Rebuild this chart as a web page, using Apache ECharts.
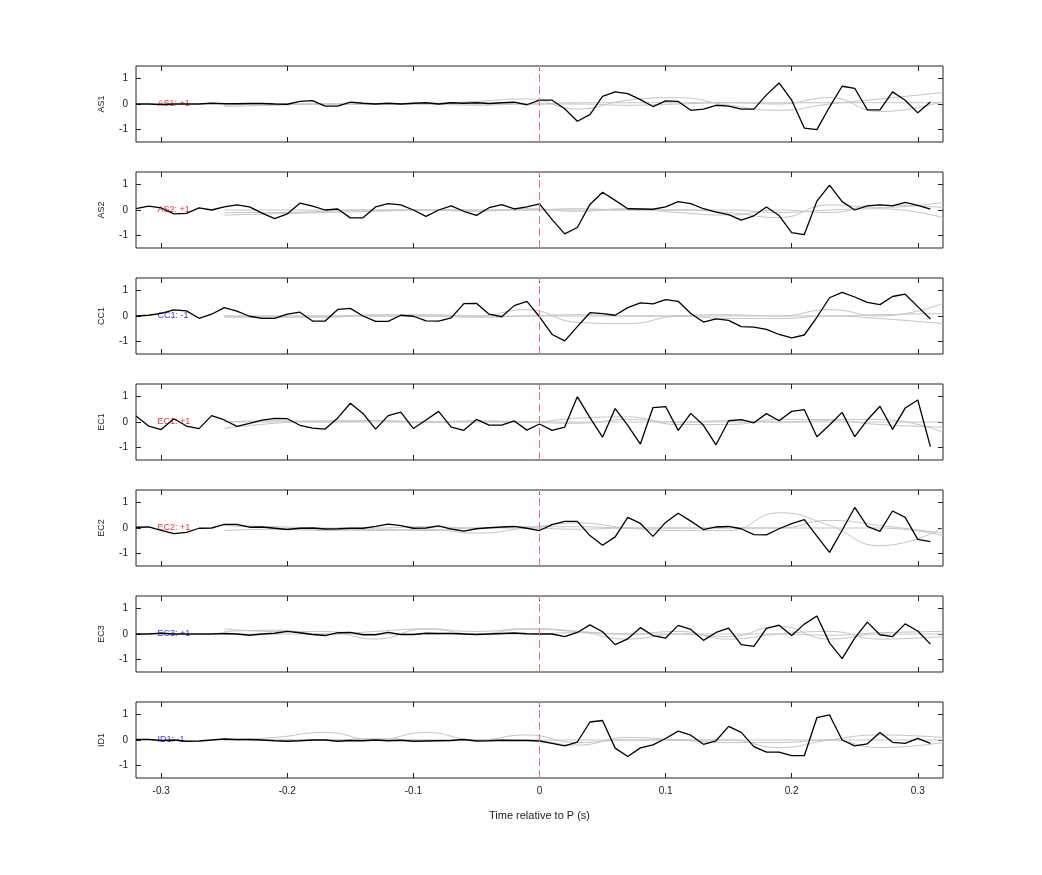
<!DOCTYPE html>
<html>
<head>
<meta charset="utf-8" />
<title>Waveforms</title>
<script src="https://cdn.jsdelivr.net/npm/echarts@6/dist/echarts.min.js"></script>
<style>html,body{margin:0;background:#fff}#chart{width:1042px;height:875px}</style>
</head>
<body>
<div id="chart"></div>
<script>
// station names and polarity labels
const stations = ['AS1', 'AS2', 'CC1', 'EC1', 'EC2', 'EC3', 'ID1'];
const polarity = ['AS1: +1', 'AS2: +1', 'CC1: -1', 'EC1: +1', 'EC2: +1', 'EC3: +1', 'ID1: -1'];
const polarityColor = ['#e00000', '#e00000', '#0000e0', '#e00000', '#e00000', '#0000e0', '#0000e0'];
const xTicks = [-0.3, -0.2, -0.1, 0, 0.1, 0.2, 0.3];

// black trace: one sample every 0.01 s from -0.32 to 0.31
const t0 = -0.32, dt = 0.01;
const AS1 = [0,0,-0.02,0,0,0,0.03,0.01,0.01,0.02,0.02,0,-0.01,0.1,0.13,-0.08,-0.08,0.07,0.03,0,0.03,0,0.03,0.05,0,0.05,0.03,0.05,0.02,0.05,0.07,-0.03,
  0.15,0.15,-0.19,-0.68,-0.42,0.3,0.48,0.41,0.17,-0.1,0.12,0.1,-0.25,-0.2,-0.05,-0.08,-0.2,-0.2,0.36,0.83,0.15,-0.95,-1.01,-0.12,0.7,0.62,-0.23,-0.23,0.48,0.15,-0.35,0.08];
const AS2 = [0.05,0.15,0.08,-0.15,-0.13,0.08,0,0.12,0.2,0.12,-0.12,-0.34,-0.15,0.27,0.15,0,0.04,-0.31,-0.31,0.12,0.25,0.2,0,-0.25,0,0.16,-0.05,-0.21,0.09,0.21,0.04,0.12,
  0.24,-0.38,-0.94,-0.69,0.22,0.7,0.38,0.05,0.04,0.03,0.12,0.33,0.25,0.05,-0.08,-0.18,-0.4,-0.23,0.12,-0.22,-0.89,-0.97,0.35,0.98,0.33,0,0.16,0.2,0.16,0.3,0.18,0.03];
const CC1 = [0,0.03,0.1,0.24,0.2,-0.09,0.07,0.33,0.19,-0.01,-0.09,-0.09,0.07,0.15,-0.2,-0.2,0.26,0.3,0,-0.21,-0.21,0.03,-0.01,-0.19,-0.2,-0.07,0.49,0.5,0.07,-0.03,0.41,0.58,
  -0.03,-0.73,-0.98,-0.42,0.13,0.09,0.03,0.33,0.52,0.48,0.65,0.58,0.1,-0.24,-0.11,-0.17,-0.42,-0.44,-0.53,-0.73,-0.86,-0.75,-0.05,0.72,0.93,0.75,0.54,0.45,0.77,0.86,0.37,-0.12];
const EC1 = [0.24,-0.16,-0.3,0.13,-0.16,-0.26,0.25,0.08,-0.17,-0.05,0.07,0.14,0.13,-0.13,-0.24,-0.28,0.16,0.74,0.34,-0.28,0.25,0.39,-0.26,0.08,0.42,-0.2,-0.33,0.1,-0.12,-0.12,0.04,-0.32,
  -0.08,-0.33,-0.2,1.0,0.17,-0.6,0.53,-0.13,-0.87,0.57,0.61,-0.33,0.34,-0.13,-0.9,0.05,0.09,-0.03,0.33,0.05,0.42,0.49,-0.58,-0.12,0.38,-0.58,0.08,0.62,-0.29,0.55,0.87,-0.97];
const EC2 = [0.03,0.04,-0.09,-0.22,-0.17,-0.01,0,0.14,0.14,0.03,0.04,-0.01,-0.06,-0.01,0,-0.04,-0.03,-0.01,-0.01,0.06,0.15,0.09,-0.01,0,0.08,-0.04,-0.12,-0.03,0.01,0.04,0.06,-0.01,
  -0.1,0.13,0.26,0.26,-0.3,-0.68,-0.35,0.42,0.18,-0.33,0.22,0.58,0.27,-0.06,0.04,0.06,-0.03,-0.26,-0.27,-0.03,0.17,0.33,-0.32,-0.96,-0.09,0.81,0.06,-0.13,0.67,0.42,-0.45,-0.54];
const EC3 = [0,0,0.03,0,0,0,0,0.02,0,-0.05,0,0.03,0.1,0.05,-0.02,-0.06,0.05,0.06,-0.03,-0.03,0.06,-0.02,-0.02,0.03,0.02,0.02,0,-0.02,0,0.02,0.04,0.01,
  0,0,-0.1,0.06,0.36,0.09,-0.42,-0.19,0.25,-0.06,-0.16,0.34,0.18,-0.25,0.06,0.23,-0.42,-0.49,0.22,0.35,-0.06,0.39,0.71,-0.35,-0.97,-0.16,0.47,-0.03,-0.1,0.4,0.12,-0.4];
const ID1 = [0.02,0.02,-0.02,0,-0.05,-0.04,0,0.04,0.02,0.02,0,-0.03,-0.05,-0.03,0,0,-0.05,-0.02,-0.03,0,-0.03,-0.01,-0.05,-0.04,-0.03,-0.02,0.02,-0.04,-0.03,-0.01,-0.02,-0.02,
  -0.04,-0.13,-0.23,-0.08,0.71,0.77,-0.32,-0.65,-0.31,-0.19,0.06,0.35,0.19,-0.17,-0.03,0.54,0.3,-0.26,-0.48,-0.48,-0.62,-0.62,0.88,0.99,0,-0.23,-0.15,0.3,-0.09,-0.13,0.06,-0.13];
const traces = [AS1, AS2, CC1, EC1, EC2, EC3, ID1];

// grey synthetic traces (coarse samples, drawn smoothed)
const gx = [-0.25,-0.21,-0.17,-0.13,-0.09,-0.05,-0.01,0.03,0.07,0.11,0.15,0.19,0.23,0.27,0.32];
const greyAS1 = [
  [0,0,0,0,0,0,0,0.05,0.05,0.05,0.05,0.05,0.05,0.05,0.05],
  [-0.05,0,0,0,0.02,0.1,0.2,-0.2,0.15,0.25,-0.05,-0.25,0,0.2,0.45],
  [-0.1,-0.05,0,0,0,-0.05,0,0,-0.05,0,0.05,0,0.25,-0.3,0.1]];
const greyAS2 = [
  [-0.1,-0.1,-0.05,0,0,0,0,0.05,0,0,-0.1,-0.3,0.2,0.1,0.3],
  [-0.2,-0.15,-0.1,-0.05,0,-0.05,0.05,-0.05,0.05,-0.1,-0.2,0,-0.1,0.2,0.1],
  [0,0,0,0,0,0,0,0,0,0,0,-0.1,0,0.05,-0.3]];
const greyCC1 = [
  [0,0,0,0,0,0,0,0,0,0,0,0,0,0.05,0.1],
  [-0.05,-0.05,-0.05,0.05,0.05,0,0.25,-0.25,-0.3,0,0.05,0,0.25,0,0.5],
  [0,0,0,0,0,-0.05,0,0.05,0,0,-0.1,-0.1,0,-0.1,-0.3]];
const greyEC1 = [
  [0,0,0,0,0,0,0,0,0,0,0,0,0,0,0],
  [-0.25,-0.05,0.05,0.05,0,0,0,0.15,0.2,-0.1,-0.1,0.1,0.1,0.1,-0.4],
  [0,0.05,0,0.05,0,0.05,0,-0.05,0.1,0,0.05,0,0.05,-0.1,-0.2]];
const greyEC2 = [
  [0.1,0,-0.05,-0.1,-0.05,-0.2,0,0.2,0,-0.1,-0.1,0.6,0.1,-0.7,0],
  [0.1,0.05,0,0,0.05,0,0.05,0.05,0,0,0,0,0.3,0.1,-0.2],
  [-0.1,-0.05,-0.1,-0.05,-0.1,0,0,-0.05,0,0,0,0,0,0,-0.3]];
const greyEC3 = [
  [0.2,0.1,0.1,-0.2,0.2,0,0.2,0.1,-0.2,0,-0.1,0.3,-0.2,0,0],
  [0.1,0.15,0,0.1,0.2,0.1,0.2,0.1,0,0.1,-0.2,0,0.1,-0.2,-0.1],
  [0,0,0,0,0,0,0,0.05,0,0,0,0,-0.05,0.05,0.1]];
const greyID1 = [
  [0,0.1,0.3,0,0.3,0,0.2,-0.1,0,0,0,-0.3,0,0.2,0.1],
  [0,0,0,0.05,0,0,0,0,0,0,0,0,0,0,0],
  [0,0,0,0,0,0,0,-0.2,0.1,0,-0.1,-0.1,0,-0.3,-0.1]];
const greys = [greyAS1, greyAS2, greyCC1, greyEC1, greyEC2, greyEC3, greyID1];

const chart = echarts.init(document.getElementById('chart'));
const font = 'Helvetica, "Liberation Sans", Arial, sans-serif';
const grid = [], xAxis = [], yAxis = [], series = [];
const n = stations.length;
const tick = { inside: true, length: 5, lineStyle: { color: '#222' } };

for (let i = 0; i < n; i++) {
  grid.push({ left: 136, right: 99, top: 66 + 106 * i, height: 76, show: true, borderColor: '#222', borderWidth: 1 });
  const last = i === n - 1;
  xAxis.push({
    type: 'value', gridIndex: i, min: -0.32, max: 0.32, position: 'bottom',
    axisLine: { show: false, onZero: false }, splitLine: { show: false },
    axisTick: Object.assign({ customValues: xTicks }, tick),
    axisLabel: { show: last, fontSize: 10, color: '#222', fontFamily: font, margin: 8, customValues: xTicks },
    name: last ? 'Time relative to P (s)' : '', nameLocation: 'middle', nameGap: 32,
    nameTextStyle: { fontSize: 11, color: '#222', fontFamily: font }
  });
  xAxis.push({
    type: 'value', gridIndex: i, min: -0.32, max: 0.32, position: 'top',
    axisLine: { show: false, onZero: false }, splitLine: { show: false }, axisLabel: { show: false },
    axisTick: Object.assign({ customValues: xTicks }, tick)
  });
  yAxis.push({
    type: 'value', gridIndex: i, min: -1.5, max: 1.5, position: 'left',
    axisLine: { show: false, onZero: false }, splitLine: { show: false },
    axisTick: Object.assign({ customValues: [-1, 0, 1] }, tick),
    axisLabel: { fontSize: 10, color: '#222', fontFamily: font, margin: 8, customValues: [-1, 0, 1] },
    name: stations[i], nameLocation: 'middle', nameGap: 30, nameRotate: 90,
    nameTextStyle: { fontSize: 9, color: '#222', fontFamily: font }
  });
  yAxis.push({
    type: 'value', gridIndex: i, min: -1.5, max: 1.5, position: 'right',
    axisLine: { show: false, onZero: false }, splitLine: { show: false }, axisLabel: { show: false },
    axisTick: Object.assign({ customValues: [-1, 0, 1] }, tick)
  });

  greys[i].forEach(function (g) {
    series.push({
      type: 'line', xAxisIndex: 2 * i, yAxisIndex: 2 * i, smooth: 0.5, showSymbol: false, silent: true,
      lineStyle: { color: '#c4c4c4', width: 1 },
      data: gx.map(function (x, k) { return [x, g[k]]; })
    });
  });
  series.push({
    type: 'line', xAxisIndex: 2 * i, yAxisIndex: 2 * i, showSymbol: false,
    lineStyle: { color: '#000', width: 1.3 },
    data: traces[i].map(function (v, k) { return [+(t0 + k * dt).toFixed(2), v]; }),
    markLine: {
      symbol: 'none', silent: true, label: { show: false },
      lineStyle: { color: '#f07070', type: [8, 4], width: 1 },
      data: [{ xAxis: 0 }]
    }
  });
  series.push({
    type: 'scatter', xAxisIndex: 2 * i, yAxisIndex: 2 * i, symbolSize: 0, silent: true,
    data: [[-0.303, 0]],
    label: { show: true, position: 'right', distance: 0, formatter: polarity[i],
      color: polarityColor[i], fontSize: 9, fontFamily: font }
  });
}

chart.setOption({ animation: false, backgroundColor: '#fff', grid: grid, xAxis: xAxis, yAxis: yAxis, series: series });
</script>
</body>
</html>
